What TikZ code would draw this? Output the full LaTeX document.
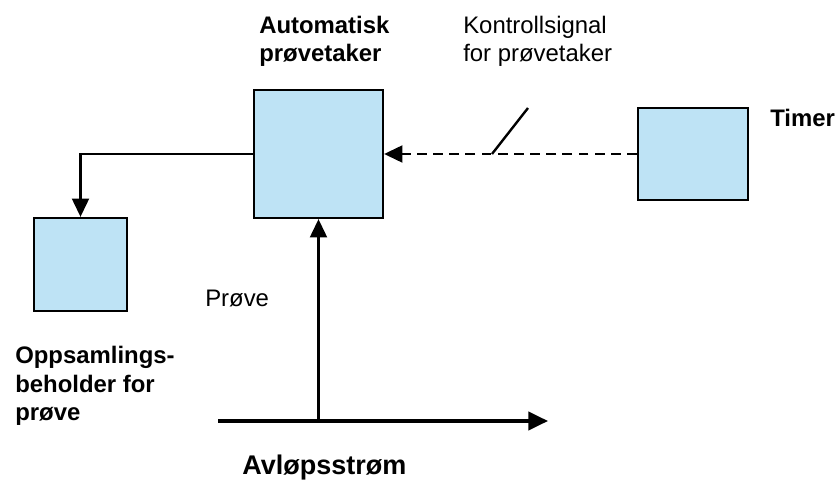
\documentclass[tikz,border=0pt]{standalone}
\usepackage{fontspec}
\setmainfont{Liberation Sans}
\usepackage{tikz}
\usetikzlibrary{arrows.meta}
\usetikzlibrary{calc}
\definecolor{boxblue}{RGB}{190,227,245}

\begin{document}
\begin{tikzpicture}[
    unit/.style={draw=black, line width=1.6pt, fill=boxblue, inner sep=0pt},
    flow/.style={line width=1.7pt, -{Triangle[length=13pt, width=12pt]}},
    signal/.style={line width=1.7pt, dash pattern=on 7pt off 4.5pt, -{Triangle[length=13pt, width=12pt]}},
    txt/.style={anchor=base west, inner sep=0pt, align=left,
                font=\fontsize{17}{20.6}\selectfont}
  ]

  \useasboundingbox (0,0) rectangle (20.95,11.975);

  % Units
  \node[unit, minimum width=3.225cm, minimum height=3.2cm] (sampler) at (7.9625,8.125) {};
  \node[unit, minimum width=2.75cm, minimum height=2.3cm] (timer) at (17.325,8.125) {};
  \node[unit, minimum width=2.325cm, minimum height=2.325cm] (container) at (2.0125,5.3625) {};

  % Notable points
  \coordinate (FlowStart) at (5.45,1.45);
  \coordinate (FlowEnd) at (13.7,1.45);
  \coordinate (Tap) at (sampler.south |- FlowStart);
  \coordinate (SlashLow) at (12.3,8.125);
  \coordinate (SlashHigh) at (13.2,9.275);

  % Connectors
  \draw[line width=2.5pt, -{Triangle[length=14pt, width=13pt]}] (FlowStart) -- (FlowEnd);
  \draw[flow] (Tap) -- (sampler.south);
  \draw[flow] (sampler.west) -| (container.north);
  \draw[signal] (timer.west) -- (sampler.east);
  \draw[line width=1.7pt] (SlashLow) -- (SlashHigh);

  % Labels (base = last line)
  \node[txt, font=\bfseries\fontsize{17}{20.6}\selectfont] (samplerlabel) at (6.475,10.425)
    {Automatisk\\prøvetaker};
  \node[txt] (signallabel) at (11.575,10.425) {Kontrollsignal\\for prøvetaker};
  \node[txt, font=\bfseries\fontsize{17}{20.6}\selectfont] (timerlabel) at (19.25,8.8) {Timer};
  \node[txt] (samplelabel) at (5.125,4.3) {Prøve};
  \node[txt, font=\bfseries\fontsize{17}{20.6}\selectfont] (containerlabel) at (0.375,1.45)
    {Oppsamlings-\\beholder for\\prøve};
  \node[txt, font=\bfseries\fontsize{19.2}{23}\selectfont] (flowlabel) at (6.05,0.125) {Avløpsstrøm};

\end{tikzpicture}
\end{document}
